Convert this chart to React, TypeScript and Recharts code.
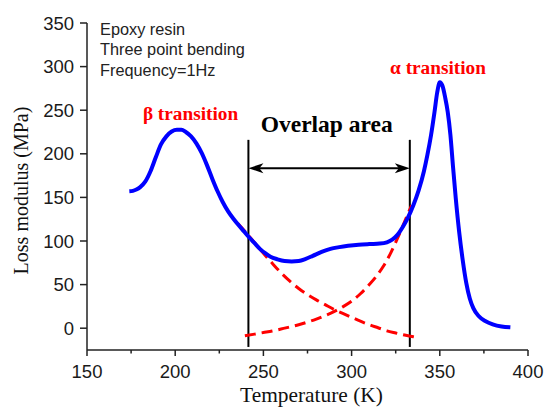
import React from "react";
import { LineChart, Line, XAxis, YAxis, ReferenceLine, ReferenceDot } from "recharts";

// measured loss modulus curve (K, MPa)
const temperature = [
  174, 176, 178, 180, 183, 186, 189, 192, 195, 198, 201, 203.5, 206, 209, 212, 215, 218, 221, 224, 227,
  230, 233, 236, 239, 242, 245, 248, 251, 254, 258, 262, 266, 270, 274, 278, 283, 288, 293, 298, 304,
  310, 316, 320, 323, 326, 329, 332, 335, 338, 341, 343, 345, 347, 348.5, 350, 351.5, 353, 354.5, 356,
  357.5, 359, 361, 363, 365, 367, 369, 372, 376, 380, 385, 390,
];
const lossModulus = [
  157, 157.5, 159, 161.5, 168, 180, 196, 211, 220, 225.5, 227.5, 227.5, 225, 220, 212, 201, 187, 171.5, 157, 144.5,
  134, 125.5, 118, 111, 104, 97.5, 91, 86, 82, 79, 77, 76.5, 77, 79.5, 83, 87.5, 91, 93, 94.5, 95.8,
  96.5, 97, 98.5, 101.5, 107, 116, 127, 141, 158, 180, 199, 221, 248, 270, 282, 278, 265, 248, 222,
  185, 150, 110, 78, 52, 34, 23, 14, 8, 4.5, 2, 1,
];

// beta relaxation fit (red dashed, decaying)
const betaTemp = [235.5, 240, 245, 250, 255, 260, 265, 270, 275, 280, 285, 290, 295, 300, 305, 310, 315, 320, 325, 330, 335, 338.5];
const betaFit = [120, 110, 98, 86, 74.5, 63.5, 54, 45.5, 38.5, 32.5, 27, 21.5, 17, 12.5, 8, 4, 0.5, -3, -5.5, -7.8, -9.8, -11.2];

// alpha relaxation fit (red dashed, rising)
const alphaTemp = [239.5, 245, 250, 255, 260, 265, 270, 275, 280, 285, 290, 295, 300, 305, 310, 314, 318, 322, 326, 330, 334];
const alphaFit = [-8.6, -6.8, -5, -3.2, -1, 1.5, 4, 7, 10.5, 14.5, 19, 24.5, 31, 39.5, 50, 59.5, 71, 85.5, 103, 122, 141];

const xTicks = [150, 175, 200, 225, 250, 275, 300, 325, 350, 375, 400];
const yTicks = [-25, 0, 25, 50, 75, 100, 125, 150, 175, 200, 225, 250, 275, 300, 325, 350];

// overlap region markers
const overlapBounds = [241.5, 333];
const overlapSpan = [-21.5, 216];
const arrowLevel = 183.5;

const infoLines = ["Epoxy resin", "Three point bending", "Frequency=1Hz"];

const SANS = "'Liberation Sans', Arial, sans-serif";
const SERIF = "'Liberation Serif', 'Times New Roman', serif";
const AXIS = "#222";

const measured = temperature.map((t, i) => ({ t, v: lossModulus[i] }));
const beta = betaTemp.map((t, i) => ({ t, v: betaFit[i] }));
const alpha = alphaTemp.map((t, i) => ({ t, v: alphaFit[i] }));

const YTick = (props: any) => {
  const { x, y, payload } = props;
  const major = payload.value % 50 === 0;
  return (
    <g>
      <line x1={x - (major ? 7 : 4)} x2={x} y1={y} y2={y} stroke={AXIS} strokeWidth={1.5} />
      {major && (
        <text x={x - 13} y={y + 6.5} textAnchor="end" fontFamily={SANS} fontSize={18.5} fill="#1a1a1a">
          {payload.value}
        </text>
      )}
    </g>
  );
};

const XTick = (props: any) => {
  const { x, y, payload } = props;
  const major = payload.value % 50 === 0;
  return (
    <g>
      <line x1={x} x2={x} y1={y} y2={y + (major ? 6 : 3.5)} stroke={AXIS} strokeWidth={1.5} />
      {major && (
        <text x={x} y={y + 27.5} textAnchor="middle" fontFamily={SANS} fontSize={18.5} fill="#1a1a1a">
          {payload.value}
        </text>
      )}
    </g>
  );
};

// double headed arrow drawn between the two overlap bounds
const ArrowShape = (props: any) => {
  const { x1, x2, y1 } = props;
  const len = 15;
  const half = 5;
  const left = Math.min(x1, x2);
  const right = Math.max(x1, x2);
  return (
    <g>
      <line x1={left + 8} x2={right - 8} y1={y1} y2={y1} stroke="#000" strokeWidth={2} />
      <polygon
        points={`${left},${y1} ${left + len},${y1 - half} ${left + len - 4},${y1} ${left + len},${y1 + half}`}
        fill="#000"
      />
      <polygon
        points={`${right},${y1} ${right - len},${y1 - half} ${right - len + 4},${y1} ${right - len},${y1 + half}`}
        fill="#000"
      />
    </g>
  );
};

const textLabel = (text: string, color: string, size: number, bold: boolean, family: string) => (props: any) => {
  const { viewBox } = props;
  const cx = viewBox.x + viewBox.width / 2;
  const cy = viewBox.y + viewBox.height / 2;
  return (
    <text x={cx} y={cy} textAnchor="middle" fontFamily={family} fontSize={size} fontWeight={bold ? "bold" : "normal"} fill={color}>
      {text}
    </text>
  );
};

const infoLabel = (props: any) => {
  const { viewBox } = props;
  const x = viewBox.x + viewBox.width / 2;
  const y = viewBox.y + viewBox.height / 2;
  return (
    <text x={x} y={y} fontFamily={SANS} fontSize={16.3} fill="#222">
      {infoLines.map((line, i) => (
        <tspan key={line} x={x} dy={i === 0 ? 0 : 20.5}>
          {line}
        </tspan>
      ))}
    </text>
  );
};

export default function App() {
  return (
    <div style={{ position: "absolute", left: 0, top: 0, width: 544, height: 409, background: "#fff" }}>
      <LineChart width={544} height={409} margin={{ top: 23, right: 16, bottom: 0, left: 0 }}>
        <XAxis
          type="number"
          dataKey="t"
          domain={[150, 400]}
          ticks={xTicks}
          allowDataOverflow
          height={59}
          tickSize={0}
          tickMargin={0}
          tickLine={false}
          tick={<XTick />}
          axisLine={{ stroke: AXIS, strokeWidth: 1.5 }}
          label={(p: any) => (
            <text
              x={p.viewBox.x + p.viewBox.width / 2 + 4}
              y={p.viewBox.y + 52}
              textAnchor="middle"
              fontFamily={SERIF}
              fontSize={21.4}
              fill="#111"
            >
              Temperature (K)
            </text>
          )}
        />
        <YAxis
          type="number"
          domain={[-25, 350]}
          ticks={yTicks}
          allowDataOverflow
          width={87}
          tickSize={0}
          tickMargin={0}
          tickLine={false}
          tick={<YTick />}
          axisLine={{ stroke: AXIS, strokeWidth: 1.5 }}
          label={() => (
            <text
              x={28}
              y={190.5}
              transform="rotate(-90, 28, 190.5)"
              textAnchor="middle"
              fontFamily={SERIF}
              fontSize={20}
              fill="#111"
            >
              Loss modulus (MPa)
            </text>
          )}
        />
        {overlapBounds.map((b) => (
          <ReferenceLine
            key={b}
            segment={[{ x: b, y: overlapSpan[0] }, { x: b, y: overlapSpan[1] }]}
            stroke="#000"
            strokeWidth={2}
          />
        ))}
        <ReferenceLine
          segment={[{ x: overlapBounds[0], y: arrowLevel }, { x: overlapBounds[1], y: arrowLevel }]}
          shape={<ArrowShape />}
        />
        <Line data={beta} dataKey="v" type="monotone" stroke="#ff0000" strokeWidth={3} strokeDasharray="11 6" dot={false} isAnimationActive={false} />
        <Line data={alpha} dataKey="v" type="monotone" stroke="#ff0000" strokeWidth={3} strokeDasharray="11 6" dot={false} isAnimationActive={false} />
        <Line data={measured} dataKey="v" type="monotone" stroke="#0000ff" strokeWidth={4} dot={false} isAnimationActive={false} />
        <ReferenceDot x={157.4} y={336.5} r={1} fill="none" stroke="none" label={infoLabel} />
        <ReferenceDot x={208.7} y={239} r={1} fill="none" stroke="none" label={textLabel("β transition", "#ff0000", 19.3, true, SERIF)} />
        <ReferenceDot x={349} y={291} r={1} fill="none" stroke="none" label={textLabel("α transition", "#ff0000", 19.3, true, SERIF)} />
        <ReferenceDot x={285.9} y={225} r={1} fill="none" stroke="none" label={textLabel("Overlap area", "#000", 23.5, true, SERIF)} />
      </LineChart>
    </div>
  );
}
